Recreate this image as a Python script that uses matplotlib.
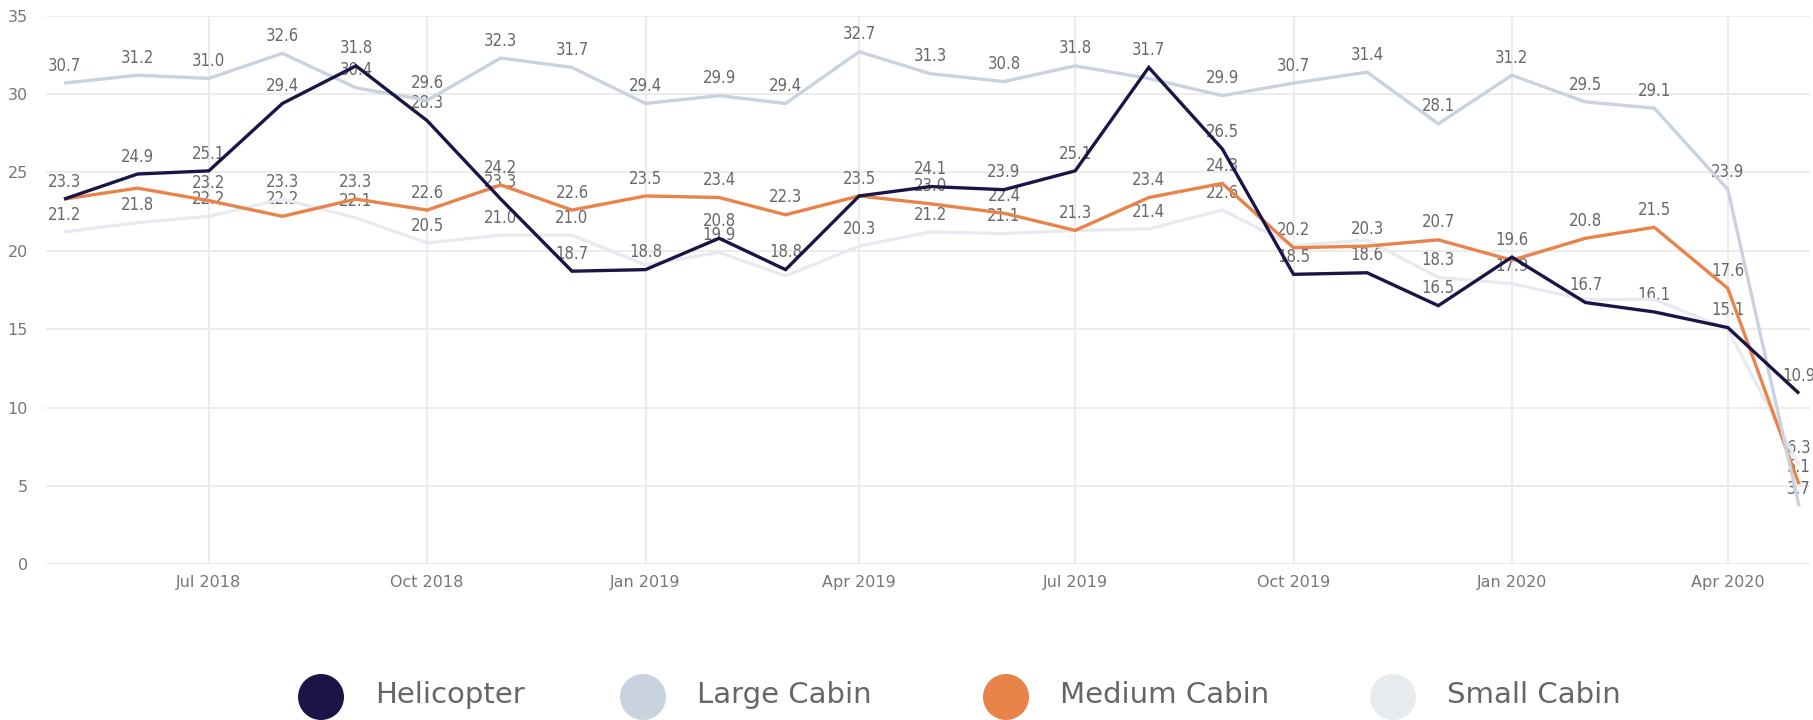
import matplotlib
matplotlib.use("Agg")
import matplotlib.pyplot as plt
import matplotlib.dates as mdates
from matplotlib.patches import Circle
import pandas as pd
import datetime as dt

# ---- data ----
months = pd.date_range("2018-05-01", periods=25, freq="MS")
series_names = ["Helicopter", "Large Cabin", "Medium Cabin", "Small Cabin"]
helicopter = [23.3, 24.9, 25.1, 29.4, 31.8, 28.3, 23.3, 18.7, 18.8, 20.8, 18.8, 23.5, 24.1,
              23.9, 25.1, 31.7, 26.5, 18.5, 18.6, 16.5, 19.6, 16.7, 16.1, 15.1, 10.9]
large_cabin = [30.7, 31.2, 31.0, 32.6, 30.4, 29.6, 32.3, 31.7, 29.4, 29.9, 29.4, 32.7, 31.3,
               30.8, 31.8, 31.0, 29.9, 30.7, 31.4, 28.1, 31.2, 29.5, 29.1, 23.9, 3.7]
medium_cabin = [23.3, 24.0, 23.2, 22.2, 23.3, 22.6, 24.2, 22.6, 23.5, 23.4, 22.3, 23.5, 23.0,
                22.4, 21.3, 23.4, 24.3, 20.2, 20.3, 20.7, 19.4, 20.8, 21.5, 17.6, 5.1]
small_cabin = [21.2, 21.8, 22.2, 23.3, 22.1, 20.5, 21.0, 21.0, 19.1, 19.9, 18.4, 20.3, 21.2,
               21.1, 21.3, 21.4, 22.6, 20.3, 20.7, 18.3, 17.9, 16.9, 16.9, 15.0, 6.3]
# indices whose data labels are hidden (overlap) in the reference
hidden_labels = {
    "Helicopter": [11],
    "Large Cabin": [15],
    "Medium Cabin": [0, 1, 20],
    "Small Cabin": [8, 10, 14, 17, 18, 21, 22, 23],
}
y_ticks = [0, 5, 10, 15, 20, 25, 30, 35]

colors = {"Helicopter": "#1b1547", "Large Cabin": "#c9d3df",
          "Medium Cabin": "#e8834a", "Small Cabin": "#e7ebf0"}
values = {"Helicopter": helicopter, "Large Cabin": large_cabin,
          "Medium Cabin": medium_cabin, "Small Cabin": small_cabin}

W, H = 1813, 720
fig = plt.figure(figsize=(W / 100, H / 100), dpi=100)
fig.patch.set_facecolor("white")

ax_l, ax_r, ax_t, ax_b = 46, 1810, 15.7, 564.3
ax = fig.add_axes([ax_l / W, 1 - ax_b / H, (ax_r - ax_l) / W, (ax_b - ax_t) / H])

zorders = {"Helicopter": 6, "Large Cabin": 5, "Medium Cabin": 4, "Small Cabin": 3}
for name in series_names:
    v = values[name]
    ax.plot(months, v, color=colors[name], lw=2.4, zorder=zorders[name],
            solid_joinstyle="miter", solid_capstyle="butt")
    for i, (d, val) in enumerate(zip(months, v)):
        if i in hidden_labels[name]:
            continue
        ax.annotate(f"{val:.1f}", (d, val), xytext=(0, 12.5), textcoords="offset points",
                    ha="center", va="center", fontsize=12, color="#686868",
                    family="DejaVu Sans", fontstretch="condensed", zorder=2,
                    annotation_clip=False)

ax.set_ylim(0, 35)
ax.set_yticks(y_ticks)
ax.set_xlim(dt.datetime(2018, 5, 1) - dt.timedelta(days=7.6),
            dt.datetime(2020, 5, 1) + dt.timedelta(days=4.6))
ax.xaxis.set_major_locator(mdates.MonthLocator(bymonth=[1, 4, 7, 10]))
ax.xaxis.set_major_formatter(mdates.DateFormatter("%b %Y"))
ax.grid(True, color="#ebebeb", lw=1.3, zorder=0)
ax.set_axisbelow(True)
for s in ax.spines.values():
    s.set_visible(False)
ax.tick_params(axis="both", length=0, colors="#777777", labelsize=11.5)
ax.tick_params(axis="y", pad=13)
ax.tick_params(axis="x", pad=8)

# ---- legend (custom, pixel coords) ----
lg = fig.add_axes([0, 0, 1, 1], zorder=-1)
lg.set_xlim(0, W)
lg.set_ylim(H, 0)
lg.axis("off")
leg_circle_x = [321, 643, 1006, 1393]
for name, cx in zip(series_names, leg_circle_x):
    lg.add_patch(Circle((cx, 697), 23, color=colors[name], lw=0))
    lg.text(cx + 54, 695, name, fontsize=21, color="#666666", va="center", ha="left",
            family="DejaVu Sans")

fig.savefig("out.png", dpi=100)
